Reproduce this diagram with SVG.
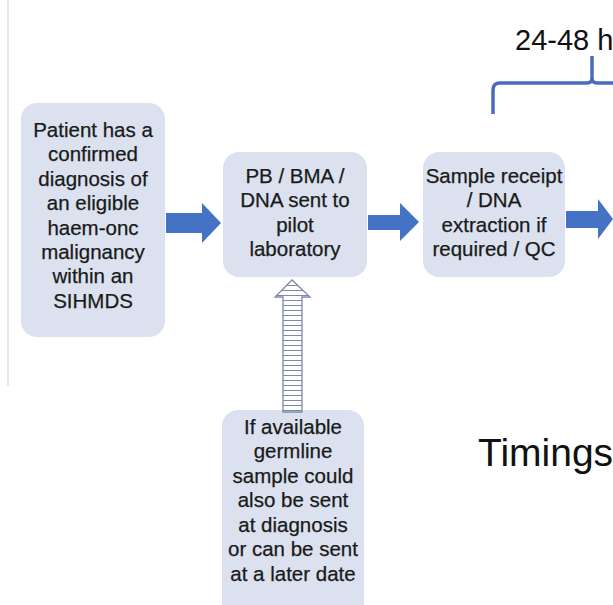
<svg xmlns="http://www.w3.org/2000/svg" width="613" height="605" viewBox="0 0 613 605">
  <defs>
    <style>
      .box { fill: #dbe1ef; }
      .lbl { font-family: "Liberation Sans", Arial, sans-serif; font-size: 20.5px; fill: #1a1a1a; stroke: #1a1a1a; stroke-width: 0.25; text-anchor: middle; }
      .big { font-family: "Liberation Sans", Arial, sans-serif; fill: #111; }
      .flow { fill: #4472c4; }
    </style>
    <pattern id="stripes" x="0" y="0" width="20" height="5" patternUnits="userSpaceOnUse">
      <rect width="20" height="5" fill="#ffffff"/>
      <line x1="0" y1="0.5" x2="20" y2="0.5" stroke="#7d89a8" stroke-width="1"/>
    </pattern>
  </defs>

  <rect width="613" height="605" fill="#ffffff"/>
  <line x1="8" y1="0" x2="8" y2="386" stroke="#d4d4d4" stroke-width="1.2"/>

  <!-- timing bracket -->
  <g id="bracket">
    <text class="big" x="515" y="50" font-size="29">24-48 h</text>
    <path d="M493,114 V90 Q493,83 500,83 H587 Q592,83 592,78 V56 M592,78 Q592,83 597,83 H613" fill="none" stroke="#4a6cbf" stroke-width="3.5"/>
  </g>

  <g id="timings">
    <text class="big" x="478" y="466" font-size="39">Timings</text>
  </g>

  <g id="node-patient">
    <rect class="box" x="21" y="103" width="144" height="234" rx="16"/>
    <text class="lbl" x="93" y="137">Patient has a</text>
    <text class="lbl" x="93" y="161">confirmed</text>
    <text class="lbl" x="93" y="186">diagnosis of</text>
    <text class="lbl" x="93" y="210">an eligible</text>
    <text class="lbl" x="93" y="235">haem-onc</text>
    <text class="lbl" x="93" y="259">malignancy</text>
    <text class="lbl" x="93" y="283">within an</text>
    <text class="lbl" x="93" y="308">SIHMDS</text>
  </g>

  <g id="node-sent">
    <rect class="box" x="223" y="152" width="144" height="125" rx="16"/>
    <text class="lbl" x="295" y="183">PB / BMA /</text>
    <text class="lbl" x="295" y="207">DNA sent to</text>
    <text class="lbl" x="295" y="232">pilot</text>
    <text class="lbl" x="295" y="256">laboratory</text>
  </g>

  <g id="node-receipt">
    <rect class="box" x="423" y="152" width="142" height="125" rx="16"/>
    <text class="lbl" x="494" y="183">Sample receipt</text>
    <text class="lbl" x="494" y="207">/ DNA</text>
    <text class="lbl" x="494" y="232">extraction if</text>
    <text class="lbl" x="494" y="256">required / QC</text>
  </g>

  <g id="node-germline">
    <rect class="box" x="222" y="410" width="142" height="210" rx="16"/>
    <text class="lbl" x="293" y="434">If available</text>
    <text class="lbl" x="293" y="458">germline</text>
    <text class="lbl" x="293" y="483">sample could</text>
    <text class="lbl" x="293" y="507">also be sent</text>
    <text class="lbl" x="293" y="532">at diagnosis</text>
    <text class="lbl" x="293" y="556">or can be sent</text>
    <text class="lbl" x="293" y="581">at a later date</text>
  </g>

  <g id="connectors">
    <polygon class="flow" points="166,213 202,213 202,203 221,223 202,243 202,233 166,233"/>
    <polygon class="flow" points="368,215 400,215 400,203 419,222 400,241 400,230 368,230"/>
    <polygon class="flow" points="566,211 598,211 598,199 613,219 598,239 598,228 566,228"/>
    <polygon points="283,412 283,297 275,297 292,280 310,297 302,297 302,412" fill="url(#stripes)" stroke="#7d89a8" stroke-width="1.3"/>
  </g>
</svg>
